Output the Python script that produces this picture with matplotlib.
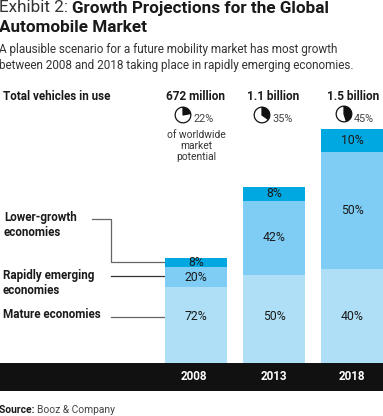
import matplotlib
matplotlib.use('Agg')
import matplotlib.pyplot as plt
from matplotlib.patches import Rectangle

W, H = 383, 416
years = ['2008', '2013', '2018']
mature = [484, 565, 600]
emerging = [134, 475, 750]
lower = [54, 90, 150]
mature_pct = ['72%', '50%', '40%']
emerging_pct = ['20%', '42%', '50%']
lower_pct = ['8%', '8%', '10%']
totals = ['672 million', '1.1 billion', '1.5 billion']
potential = [22, 35, 45]
segment_labels = ['Lower-growth\neconomies', 'Rapidly emerging\neconomies', 'Mature economies']

FONT = 'Roboto'
plt.rcParams['font.family'] = [FONT, 'DejaVu Sans']
fig = plt.figure(figsize=(W / 100, H / 100), dpi=100, facecolor='white')

bg = fig.add_axes([0, 0, 1, 1])
bg.set_xlim(0, W)
bg.set_ylim(H, 0)
bg.axis('off')

def T(x, y, s, **kw):
    kw.setdefault('va', 'center')
    kw.setdefault('color', '#1a1a1a')
    return bg.text(x, y, s, **kw)

# Title block
t1 = T(-1, 8, 'Exhibit 2: ', fontsize=12.3, color='#333333')
fig.canvas.draw()
ext = t1.get_window_extent()
T(ext.x1, 8, 'Growth Projections for the Global', fontsize=12.3, fontweight='bold')
T(-1, 28, 'Automobile Market', fontsize=12.3, fontweight='bold')
T(-1, 50, 'A plausible scenario for a future mobility market has most growth', fontsize=8.5, color='#333333')
T(-1, 65, 'between 2008 and 2018 taking place in rapidly emerging economies.', fontsize=8.5, color='#333333')
T(3, 97, 'Total vehicles in use', fontsize=8.4, fontweight='bold')

# Black band
bg.add_patch(Rectangle((0, 363), W, 28, color='#111111', lw=0))

# Bars
left_px, right_px, top_px, base_px = 157, W, 129, 363
ax = fig.add_axes([left_px / W, 1 - base_px / H, (right_px - left_px) / W, (base_px - top_px) / H])
ax.patch.set_alpha(0)
ax.axis('off')
ax.set_xlim(-0.5, (right_px - left_px) / 78 - 0.5)
ax.set_ylim(0, 1500)
xs = list(range(len(years)))
bw = 62 / 78
b2 = [a + b for a, b in zip(mature, emerging)]
ax.bar(xs, mature, bw, color='#AEDFF7', lw=0)
ax.bar(xs, emerging, bw, bottom=mature, color='#7FCDF5', lw=0)
ax.bar(xs, lower, bw, bottom=b2, color='#00A8E1', lw=0)
mature_label_level = 295
for i in xs:
    ax.text(i, mature_label_level, mature_pct[i], ha='center', va='center', fontsize=8.8, color='#1a1a1a')
    ax.text(i, mature[i] + emerging[i] / 2, emerging_pct[i], ha='center', va='center', fontsize=8.8, color='#1a1a1a')
    ax.text(i, b2[i] + lower[i] / 2, lower_pct[i], ha='center', va='center', fontsize=8.8, color='#1a1a1a')

# Year labels, totals, pies
px_centres = [194, 274, 352]
total_x = [196, 273, 353]
total_y = [96, 96, 97]
pie_x = [183, 262, 344]
pie_y = [115, 115, 114]
pct_x = [204, 283, 364]
for i in xs:
    T(px_centres[i], 377, years[i], ha='center', fontsize=8.4, fontweight='bold', color='white')
    T(total_x[i], total_y[i], totals[i], ha='center', fontsize=8.5, fontweight='bold')
    r = 8.5
    pa = fig.add_axes([(pie_x[i] - r) / W, 1 - (pie_y[i] + r) / H, 2 * r / W, 2 * r / H])
    pa.pie([potential[i], 100 - potential[i]], colors=['#111111', 'white'], startangle=90, counterclock=False,
           wedgeprops=dict(edgecolor='#111111', linewidth=0.9), radius=0.92)
    pa.set_xlim(-1, 1)
    pa.set_ylim(-1, 1)
    pa.set_aspect('equal')
    T(pct_x[i], 119, f'{potential[i]}%', ha='center', fontsize=7.8, color='#444444')

T(196, 130, 'of worldwide\nmarket\npotential', ha='center', va='top', fontsize=7.4, color='#333333', linespacing=1.12)

# Segment labels and leaders
T(4, 225, segment_labels[0], fontsize=8.4, fontweight='bold', linespacing=1.3)
T(3, 283, segment_labels[1], fontsize=8.4, fontweight='bold', linespacing=1.3)
T(3, 315, segment_labels[2], fontsize=8.4, fontweight='bold')
bg.plot([92, 111, 111, 165], [219, 219, 262, 262], color='#666666', lw=0.9)
bg.plot([111, 165], [276, 276], color='#333333', lw=0.9)
bg.plot([111, 165], [317, 317], color='#666666', lw=0.9)

# Source
t = T(-1, 410, 'Source: ', fontsize=7.4, fontweight='bold')
fig.canvas.draw()
T(t.get_window_extent().x1, 410, 'Booz & Company', fontsize=7.4, color='#444444')

fig.savefig('out.png', dpi=100, facecolor='white')
